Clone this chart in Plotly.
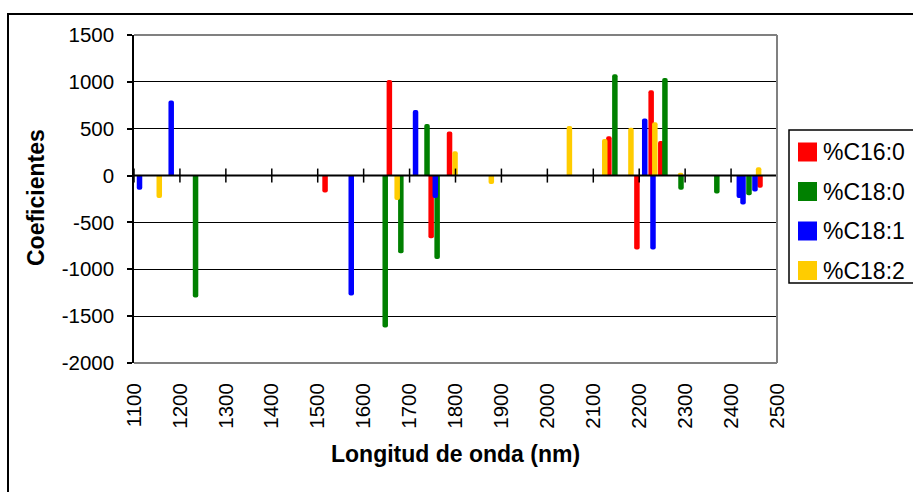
import plotly.graph_objects as go

# ---- data ----
series_names = ["%C16:0", "%C18:0", "%C18:1", "%C18:2"]
series_colors = ["#FF0000", "#008000", "#0000FF", "#FFCC00"]

c160_x = [1516, 1656, 1747, 1787, 2134, 2195, 2226, 2247, 2463]
c160_y = [-180, 1020, -670, 470, 420, -790, 910, 370, -130]

c180_x = [1234, 1647, 1681, 1738, 1760, 2147, 2256, 2291, 2369, 2439]
c180_y = [-1300, -1620, -830, 550, -890, 1080, 1040, -150, -190, -210]

c181_x = [1112, 1181, 1573, 1713, 1756, 2212, 2230, 2418, 2426, 2452]
c181_y = [-150, 800, -1280, 700, -240, 610, -790, -240, -310, -170]

c182_x = [1155, 1673, 1799, 1878, 2048, 2125, 2182, 2234, 2290, 2460]
c182_y = [-240, -260, 260, -90, 530, 390, 510, 570, 30, 90]

x_ticks = [1100, 1200, 1300, 1400, 1500, 1600, 1700, 1800, 1900, 2000,
           2100, 2200, 2300, 2400, 2500]
x_tick_labels = [str(v) for v in x_ticks]
y_ticks = [1500, 1000, 500, 0, -500, -1000, -1500, -2000]
y_tick_labels = ["1500", "1000", "500", "0", "-500", "-1000", "-1500", "-2000"]

x_title = "Longitud de onda (nm)"
y_title = "Coeficientes"

FONT = "Liberation Sans, Arial, sans-serif"

# ---- geometry helpers (pixel -> paper) ----
L, R, T, B = 134, 136, 35, 129
W, H = 913, 492
PW, PH = W - L - R, H - T - B


def px(xp):
    return (xp - L) / PW


def py(yp):
    return (H - B - yp) / PH


fig = go.Figure()

all_x = [c160_x, c180_x, c181_x, c182_x]
all_y = [c160_y, c180_y, c181_y, c182_y]
for name, color, xs, ys in zip(series_names, series_colors, all_x, all_y):
    fig.add_trace(go.Bar(
        x=xs, y=ys, width=12, name=name, showlegend=False,
        marker=dict(color=color, line=dict(width=0), cornerradius=3),
    ))

# cross tick marks on the zero line
fig.add_trace(go.Scatter(
    x=x_ticks, y=[0] * len(x_ticks), mode="markers", showlegend=False,
    hoverinfo="skip",
    marker=dict(symbol="line-ns", size=10, color="black",
                line=dict(color="black", width=1.5)),
))

shapes = []
# zero line on top of bars
shapes.append(dict(type="line", xref="paper", yref="y", x0=0, x1=1, y0=0, y1=0,
                   line=dict(color="black", width=2), layer="above"))
# gray plot-area border (top, right, bottom)
for (x0, y0, x1, y1) in [(0, 1, 1, 1), (1, 0, 1, 1), (0, 0, 1, 0)]:
    shapes.append(dict(type="line", xref="paper", yref="paper", x0=x0, y0=y0,
                       x1=x1, y1=y1, line=dict(color="#808080", width=2),
                       layer="above"))
# outer chart border
shapes.append(dict(type="rect", xref="paper", yref="paper",
                   x0=px(8), x1=px(930), y0=py(505), y1=py(14),
                   line=dict(color="black", width=2), fillcolor="rgba(0,0,0,0)"))
# legend box
shapes.append(dict(type="rect", xref="paper", yref="paper",
                   x0=px(789), x1=px(930), y0=py(283), y1=py(130),
                   line=dict(color="black", width=1.5), fillcolor="white"))

annotations = []
leg_centers = [152, 191.5, 231, 270.5]
for name, color, cy in zip(series_names, series_colors, leg_centers):
    shapes.append(dict(type="rect", xref="paper", yref="paper",
                       x0=px(798), x1=px(817), y0=py(cy + 9.5), y1=py(cy - 9.5),
                       line=dict(width=0), fillcolor=color))
    annotations.append(dict(text=name, xref="paper", yref="paper",
                            x=px(821), y=py(cy), xanchor="left", yanchor="middle",
                            showarrow=False,
                            font=dict(family=FONT, size=23, color="black")))

annotations.append(dict(text="<b>" + x_title + "</b>", xref="paper", yref="paper",
                        x=0.5, y=py(454), xanchor="center", yanchor="middle",
                        showarrow=False,
                        font=dict(family=FONT, size=23, color="black")))
annotations.append(dict(text="<b>" + y_title + "</b>", xref="paper", yref="paper",
                        x=px(36), y=py(198), xanchor="center", yanchor="middle",
                        textangle=-90, showarrow=False,
                        font=dict(family=FONT, size=23, color="black")))

fig.update_layout(
    width=W, height=H,
    margin=dict(l=L, r=R, t=T, b=B, autoexpand=False),
    paper_bgcolor="white", plot_bgcolor="white",
    barmode="overlay", showlegend=False,
    font=dict(family=FONT, color="black"),
    shapes=shapes, annotations=annotations,
    xaxis=dict(range=[1100, 2500], tickvals=x_ticks, ticktext=x_tick_labels,
               tickangle=-90, tickfont=dict(family=FONT, size=20.5, color="black"),
               showgrid=False, zeroline=False, showline=False, ticks="",
               ticklabelstandoff=15, fixedrange=True),
    yaxis=dict(range=[-2000, 1500], tickvals=y_ticks, ticktext=y_tick_labels,
               tickfont=dict(family=FONT, size=20.5, color="black"),
               showgrid=True, gridcolor="black", gridwidth=1.4,
               showline=True, linecolor="black", linewidth=1.5,
               ticks="outside", ticklen=5, tickwidth=1.5, tickcolor="black",
               ticklabelstandoff=9, zeroline=False, fixedrange=True),
)

fig.write_html("out.html")
